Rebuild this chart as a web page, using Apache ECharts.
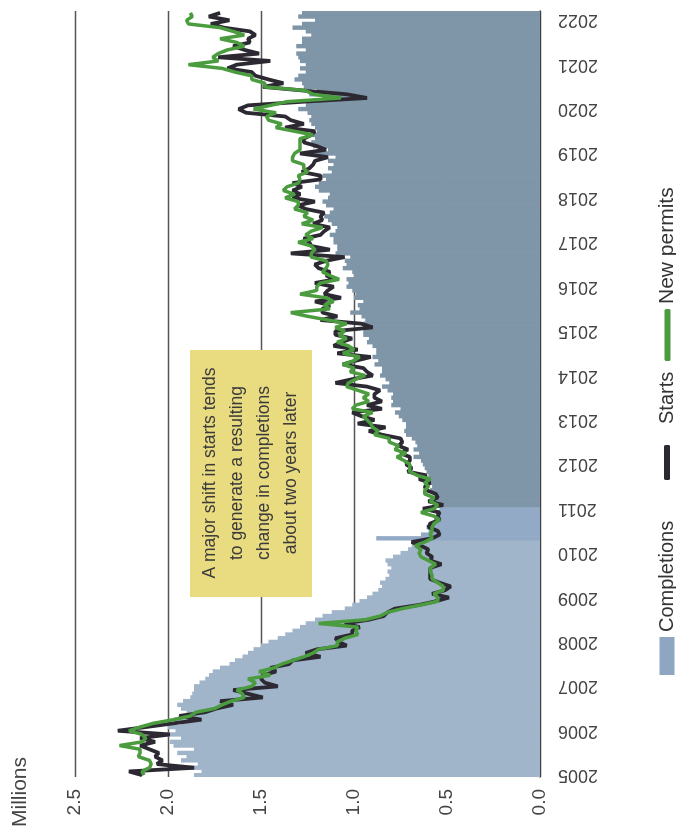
<!DOCTYPE html>
<html>
<head>
<meta charset="utf-8">
<title>Housing completions, starts and permits</title>
<script src="https://cdn.jsdelivr.net/npm/echarts@6/dist/echarts.min.js"></script>
<style>
  html, body { margin: 0; padding: 0; background: #fff; }
  body { width: 676px; height: 838px; overflow: hidden; position: relative; }
  /* chart is drawn upright, then turned a quarter turn like the scanned page */
  #main {
    position: absolute; left: 0; top: 0;
    width: 838px; height: 676px;
    transform-origin: 0 0;
    transform: translate(0px, 838px) rotate(-90deg);
  }
</style>
</head>
<body>
<div id="main"></div>
<script>
// years on the axis
var years = ['2005','2006','2007','2008','2009','2010','2011','2012','2013',
             '2014','2015','2016','2017','2018','2019','2020','2021','2022'];

// monthly values, millions (Jan 2005 - Mar 2022)
var completions = [
  1.86,1.82,1.90,1.84,1.93,1.90,1.95,1.86,1.97,1.99,1.93,2.01,
  1.96,2.00,1.93,1.97,1.92,1.90,1.93,1.95,1.92,1.88,1.87,1.86,
  1.86,1.83,1.80,1.78,1.76,1.72,1.67,1.64,1.60,1.57,1.54,1.50,
  1.46,1.41,1.37,1.33,1.29,1.26,1.21,1.17,1.12,1.05,1.01,0.97,
  0.93,0.90,0.87,0.85,0.86,0.83,0.81,0.82,0.80,0.82,0.83,0.79,
  0.75,0.71,0.69,0.67,0.88,0.64,0.60,0.61,0.58,0.57,0.55,0.56,
  0.54,0.55,0.58,0.56,0.57,0.59,0.58,0.61,0.62,0.60,0.61,0.62,
  0.63,0.64,0.68,0.65,0.68,0.66,0.67,0.69,0.72,0.73,0.72,0.72,
  0.74,0.76,0.78,0.75,0.80,0.79,0.80,0.79,0.82,0.85,0.81,0.83,
  0.86,0.85,0.85,0.89,0.87,0.90,0.88,0.88,0.90,0.93,0.92,0.95,
  0.95,0.91,0.95,0.94,0.96,1.02,0.97,0.98,0.95,1.00,0.99,1.01,
  1.04,1.03,1.04,1.00,1.01,1.06,1.04,1.05,1.02,1.10,1.09,1.09,
  1.11,1.11,1.13,1.10,1.09,1.12,1.14,1.16,1.13,1.11,1.15,1.17,
  1.14,1.13,1.19,1.21,1.19,1.15,1.17,1.12,1.14,1.11,1.14,1.10,
  1.21,1.14,1.22,1.23,1.21,1.22,1.20,1.21,1.23,1.24,1.23,1.25,
  1.30,1.26,1.25,1.17,1.24,1.20,1.27,1.28,1.32,1.30,1.26,1.29,
  1.26,1.29,1.30,1.31,1.26,1.31,1.28,1.28,1.23,1.26,1.33,1.28,
  1.21,1.30,1.28
];

var starts = [
  2.14,2.21,1.86,2.06,2.03,2.07,2.05,2.10,2.15,2.07,2.15,1.99,
  2.27,2.12,1.97,1.82,1.94,1.80,1.74,1.65,1.72,1.49,1.57,1.65,
  1.41,1.48,1.50,1.49,1.42,1.45,1.35,1.33,1.18,1.26,1.20,1.04,
  1.08,1.10,1.01,1.01,0.97,1.05,0.92,0.84,0.82,0.78,0.65,0.56,
  0.49,0.58,0.51,0.48,0.54,0.59,0.59,0.59,0.59,0.53,0.59,0.58,
  0.61,0.60,0.64,0.69,0.58,0.54,0.55,0.60,0.59,0.54,0.55,0.54,
  0.63,0.52,0.60,0.55,0.56,0.61,0.62,0.59,0.65,0.61,0.71,0.69,
  0.72,0.70,0.70,0.75,0.71,0.76,0.74,0.75,0.85,0.92,0.83,0.98,
  0.89,0.96,1.01,0.85,0.93,0.85,0.89,0.89,0.86,0.93,1.10,1.01,
  0.90,0.93,0.95,1.06,0.99,0.91,1.09,0.98,1.11,1.07,1.01,1.10,
  1.10,0.90,0.96,1.18,1.09,1.17,1.17,1.13,1.21,1.07,1.16,1.14,
  1.11,1.21,1.10,1.15,1.13,1.19,1.21,1.15,1.05,1.34,1.13,1.23,
  1.24,1.27,1.18,1.16,1.13,1.22,1.17,1.18,1.16,1.26,1.30,1.21,
  1.33,1.29,1.33,1.28,1.33,1.18,1.18,1.28,1.24,1.22,1.21,1.14,
  1.29,1.15,1.20,1.27,1.27,1.23,1.21,1.37,1.27,1.34,1.37,1.58,
  1.62,1.57,1.27,0.93,1.04,1.27,1.49,1.38,1.46,1.53,1.55,1.68,
  1.63,1.45,1.73,1.51,1.59,1.65,1.56,1.57,1.53,1.56,1.70,1.77,
  1.67,1.78,1.72
];

var permits = [
  2.13,2.14,2.10,2.09,2.10,2.16,2.15,2.15,2.26,2.14,2.12,2.14,
  2.21,2.15,2.08,1.97,1.88,1.85,1.75,1.71,1.66,1.59,1.60,1.63,
  1.55,1.53,1.57,1.45,1.51,1.43,1.39,1.33,1.27,1.22,1.19,1.09,
  1.09,1.05,0.98,0.99,0.98,1.19,0.94,0.86,0.82,0.74,0.64,0.55,
  0.55,0.57,0.52,0.52,0.55,0.58,0.58,0.59,0.59,0.56,0.60,0.64,
  0.65,0.64,0.67,0.62,0.58,0.59,0.58,0.58,0.57,0.54,0.57,0.64,
  0.57,0.55,0.59,0.57,0.62,0.62,0.60,0.62,0.59,0.66,0.70,0.70,
  0.70,0.73,0.77,0.72,0.78,0.76,0.81,0.81,0.89,0.87,0.90,0.91,
  0.93,0.95,0.90,1.01,0.99,0.92,0.95,0.92,0.98,1.04,1.03,0.99,
  0.94,1.02,1.00,1.06,1.00,0.97,1.06,1.00,1.03,1.09,1.04,1.08,
  1.05,1.10,1.04,1.14,1.25,1.34,1.13,1.16,1.11,1.15,1.29,1.20,
  1.20,1.18,1.08,1.13,1.17,1.15,1.14,1.15,1.23,1.23,1.21,1.23,
  1.30,1.22,1.26,1.23,1.17,1.28,1.22,1.27,1.25,1.32,1.30,1.30,
  1.37,1.32,1.38,1.36,1.30,1.29,1.30,1.25,1.27,1.27,1.33,1.33,
  1.32,1.29,1.29,1.29,1.29,1.22,1.32,1.42,1.39,1.46,1.47,1.42,
  1.54,1.45,1.36,1.07,1.22,1.26,1.48,1.48,1.55,1.55,1.64,1.71,
  1.89,1.73,1.76,1.73,1.68,1.59,1.63,1.72,1.59,1.65,1.72,1.89,
  1.90,1.87,1.88
];

var noteLines = [
  'A major shift in starts tends',
  'to generate a resulting',
  'change in completions',
  'about two years later'
];

var FONT = '"Liberation Sans", Arial, Helvetica, sans-serif';

// month categories built from the year list
var months = [];
for (var y = 0; y < years.length; y++) {
    for (var m = 1; m <= 12; m++) {
        if (months.length < completions.length) {
            months.push(years[y] + '-' + (m < 10 ? '0' + m : m));
        }
    }
}

// scan shows lighter bars before 2010, a bluer band in 2010, slate afterwards
function barColor(i) {
    if (i < 64) return '#a1b5ca';
    if (i < 73) return '#93aac6';
    return '#7f95a8';
}

var barData = completions.map(function (v, i) {
    return { value: v, itemStyle: { color: barColor(i) } };
});

var chart = echarts.init(document.getElementById('main'));

var option = {
    animation: false,
    backgroundColor: '#ffffff',
    textStyle: { fontFamily: FONT },
    grid: { left: 61, right: 11, top: 75, bottom: 136 },
    legend: [
        {
            data: [{ name: 'Completions', icon: 'rect' }],
            left: 158, top: 652,
            itemWidth: 38, itemHeight: 15,
            textStyle: { fontSize: 20, color: '#333', fontFamily: FONT }
        },
        {
            data: [{ name: 'Starts', icon: 'roundRect' }],
            left: 353, top: 652,
            itemWidth: 35, itemHeight: 6,
            textStyle: { fontSize: 20, color: '#333', fontFamily: FONT, padding: [0, 0, 0, 16] }
        },
        {
            data: [{ name: 'New permits', icon: 'roundRect' }],
            left: 472, top: 652,
            itemWidth: 52, itemHeight: 6,
            textStyle: { fontSize: 21, color: '#333', fontFamily: FONT }
        }
    ],
    xAxis: {
        type: 'category',
        data: months,
        boundaryGap: true,
        axisLine: { show: true, lineStyle: { color: '#3a3a3a', width: 1.5 } },
        axisTick: { show: false },
        axisLabel: {
            interval: function (index, value) { return value.slice(5) === '01'; },
            formatter: function (value) { return value.slice(0, 4); },
            rotate: 90,
            margin: 18,
            fontSize: 18,
            color: '#444',
            fontFamily: FONT
        },
        splitLine: { show: false }
    },
    yAxis: {
        type: 'value',
        min: 0,
        max: 2.5,
        interval: 0.5,
        axisLine: { show: false },
        axisTick: { show: false },
        axisLabel: {
            formatter: function (v) { return v.toFixed(1); },
            margin: 12,
            fontSize: 19,
            color: '#444',
            fontFamily: FONT
        },
        splitLine: { lineStyle: { color: '#555', width: 1.3 } }
    },
    graphic: [
        {
            type: 'text',
            left: 11, top: 10,
            style: { text: 'Millions', fontSize: 21, fill: '#444', fontFamily: FONT }
        },
        {
            type: 'rect',
            left: 241, top: 190,
            z: 100,
            shape: { width: 247, height: 122 },
            style: { fill: '#e9db80' }
        },
        {
            type: 'text',
            x: 365, y: 251,
            z: 101,
            style: {
                text: noteLines.join('\n'),
                fontSize: 17.5,
                lineHeight: 27,
                fill: '#3b3b3b',
                align: 'center',
                verticalAlign: 'middle',
                fontFamily: FONT
            }
        }
    ],
    series: [
        {
            name: 'Completions',
            type: 'bar',
            data: barData,
            // a touch wider than the month band so neighbouring bars close up
            barWidth: 4.4,
            itemStyle: { color: '#8ea6c2' }
        },
        {
            name: 'Starts',
            type: 'line',
            data: starts,
            showSymbol: false,
            lineStyle: { color: '#2c2933', width: 3.8 },
            itemStyle: { color: '#2c2933' }
        },
        {
            name: 'New permits',
            type: 'line',
            data: permits,
            showSymbol: false,
            lineStyle: { color: '#4b9c3e', width: 3.5 },
            itemStyle: { color: '#4b9c3e' }
        }
    ]
};

chart.setOption(option);
</script>
</body>
</html>
